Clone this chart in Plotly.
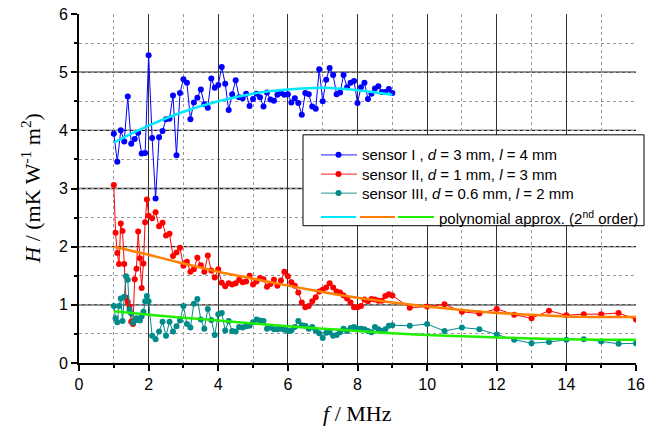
import plotly.graph_objects as go

# ---------------- data ----------------
f_s1 = [1.0, 1.1, 1.2, 1.3, 1.4, 1.5, 1.6, 1.7, 1.8, 1.9,
        2.0, 2.1, 2.2, 2.3, 2.4, 2.5, 2.6, 2.7, 2.8, 2.9,
        3.0, 3.1, 3.2, 3.3, 3.4, 3.5, 3.6, 3.7, 3.8, 3.9,
        4.0, 4.1, 4.2, 4.3, 4.4, 4.5, 4.6, 4.7, 4.8, 4.9,
        5.0, 5.1, 5.2, 5.3, 5.4, 5.5, 5.6, 5.7, 5.8, 5.9,
        6.0, 6.1, 6.2, 6.3, 6.4, 6.5, 6.6, 6.7, 6.8, 6.9,
        7.0, 7.1, 7.2, 7.3, 7.4, 7.5, 7.6, 7.7, 7.8, 7.9,
        8.0, 8.1, 8.2, 8.3, 8.4, 8.5, 8.6, 8.7, 8.8, 8.9, 9.0]
H_s1 = [3.94, 3.46, 4.00, 3.81, 4.58, 3.77, 3.85, 3.96, 3.60, 3.61,
        5.29, 3.87, 2.83, 3.88, 3.99, 4.19, 4.20, 4.60, 3.57, 4.64,
        4.88, 4.82, 4.19, 4.48, 4.56, 4.70, 4.45, 4.39, 4.89, 4.73,
        4.78, 5.09, 4.80, 4.35, 4.62, 4.86, 4.57, 4.55, 4.63, 4.42,
        4.54, 4.63, 4.57, 4.41, 4.65, 4.53, 4.51, 4.61, 4.64, 4.61,
        4.62, 4.48, 4.55, 4.47, 4.27, 4.64, 4.62, 4.41, 4.37, 5.05,
        4.50, 4.87, 5.07, 4.95, 4.62, 4.65, 4.95, 4.74, 4.82, 4.85,
        4.47, 4.74, 4.82, 4.54, 4.63, 4.72, 4.76, 4.66, 4.66, 4.71, 4.64]

f_s23 = [1.00, 1.05, 1.10, 1.15, 1.20, 1.25, 1.30, 1.35, 1.40, 1.45,
         1.50, 1.55, 1.60, 1.65, 1.70, 1.75, 1.80, 1.85, 1.90, 1.95, 2.00,
         2.1, 2.2, 2.3, 2.4, 2.5, 2.6, 2.7, 2.8, 2.9, 3.0,
         3.1, 3.2, 3.3, 3.4, 3.5, 3.6, 3.7, 3.8, 3.9, 4.0,
         4.1, 4.2, 4.3, 4.4, 4.5, 4.6, 4.7, 4.8, 4.9, 5.0,
         5.1, 5.2, 5.3, 5.4, 5.5, 5.6, 5.7, 5.8, 5.9, 6.0,
         6.1, 6.2, 6.3, 6.4, 6.5, 6.6, 6.7, 6.8, 6.9, 7.0,
         7.1, 7.2, 7.3, 7.4, 7.5, 7.6, 7.7, 7.8, 7.9, 8.0,
         8.1, 8.2, 8.3, 8.4, 8.5, 8.6, 8.7, 8.8, 8.9, 9.0,
         9.5, 10.0, 10.5, 11.0, 11.5, 12.0, 12.5, 13.0, 13.5, 14.0,
         14.5, 15.0, 15.5, 16.0]
H_s2 = [3.06, 2.24, 1.89, 1.70, 2.40, 2.27, 1.70, 1.12, 1.05, 0.97,
        0.71, 0.67, 1.44, 1.62, 2.26, 1.80, 1.29, 1.71, 2.42, 2.81, 2.53,
        2.49, 2.59, 2.35, 2.41, 2.19, 2.22, 1.84, 1.90, 1.98, 1.67,
        1.74, 1.57, 1.61, 1.81, 1.68, 1.57, 1.85, 1.59, 1.47, 1.61,
        1.38, 1.32, 1.37, 1.35, 1.37, 1.43, 1.39, 1.40, 1.50, 1.35,
        1.40, 1.46, 1.44, 1.31, 1.36, 1.43, 1.33, 1.42, 1.57, 1.49,
        1.39, 1.33, 1.21, 1.04, 0.96, 0.98, 1.06, 1.13, 1.23, 1.26,
        1.30, 1.37, 1.30, 1.23, 1.21, 1.16, 1.11, 1.04, 0.96, 0.96,
        0.98, 1.09, 1.06, 1.10, 1.09, 1.07, 1.07, 1.15, 1.18, 1.16,
        0.95, 0.97, 1.01, 0.88, 0.85, 0.93, 0.83, 0.77, 0.90, 0.82,
        0.84, 0.84, 0.86, 0.75]
H_s3 = [0.98, 0.77, 0.70, 0.98, 1.11, 0.72, 1.14, 1.49, 1.43, 0.92,
        0.85, 0.69, 0.73, 0.77, 0.74, 0.73, 0.80, 0.88, 1.06, 1.15, 1.06,
        0.47, 0.41, 0.54, 0.71, 0.47, 0.71, 0.54, 0.63, 0.73, 0.98,
        0.67, 0.61, 1.02, 1.10, 0.75, 0.59, 0.93, 0.74, 0.48, 0.84,
        0.86, 0.56, 0.72, 0.55, 0.54, 0.62, 0.61, 0.63, 0.64, 0.70,
        0.75, 0.73, 0.72, 0.59, 0.61, 0.58, 0.58, 0.59, 0.57, 0.55,
        0.56, 0.62, 0.72, 0.65, 0.64, 0.59, 0.62, 0.56, 0.51, 0.43,
        0.52, 0.53, 0.47, 0.48, 0.53, 0.59, 0.55, 0.60, 0.62, 0.59,
        0.59, 0.58, 0.55, 0.53, 0.62, 0.58, 0.55, 0.58, 0.64, 0.65,
        0.64, 0.67, 0.55, 0.61, 0.58, 0.49, 0.40, 0.34, 0.36, 0.40,
        0.41, 0.37, 0.33, 0.34]

# polynomial (2nd order) approximations
f_fit1 = [1, 2, 3, 4, 5, 6, 7, 8, 9]
H_fit1 = [3.79, 4.08, 4.32, 4.50, 4.63, 4.70, 4.73, 4.69, 4.61]
f_fit23 = [1, 2, 3, 4, 5, 6, 7, 8, 9, 10, 11, 12, 13, 14, 15, 16]
H_fit2 = [2.00, 1.86, 1.71, 1.57, 1.45, 1.33, 1.22, 1.12, 1.04, 0.97,
          0.91, 0.86, 0.83, 0.80, 0.79, 0.79]
H_fit3 = [0.89, 0.83, 0.78, 0.73, 0.68, 0.63, 0.59, 0.55, 0.51, 0.48,
          0.46, 0.44, 0.42, 0.41, 0.40, 0.40]

x_ticks = [0, 2, 4, 6, 8, 10, 12, 14, 16]
y_major = [0, 1, 2, 3, 4, 5, 6]

names = ["sensor I , <i>d</i> = 3 mm, <i>l</i> = 4 mm",
         "sensor II, <i>d</i> = 1 mm, <i>l</i> = 3 mm",
         "sensor III, <i>d</i> = 0.6 mm, <i>l</i> = 2 mm"]
fit_label = "polynomial approx. (2<sup>nd</sup> order)"

# ---------------- styling ----------------
C_BLUE, C_RED, C_TEAL = "#0000ff", "#ff0000", "#008b8b"
C_CYAN, C_ORANGE, C_GREEN = "#00e8ff", "#ff8000", "#22ee00"
SANS = "Liberation Sans, Arial, sans-serif"
SERIF = "Liberation Serif, Times New Roman, serif"

W, H = 650, 437
L, R, T, B = 79, 14, 14, 73.5
PW, PH = W - L - R, H - T - B


def px2paper(px, py):
    return (px - L) / PW, (H - B - py) / PH


fig = go.Figure()

for fx, hy, col in [(f_s1, H_s1, C_BLUE), (f_s23, H_s2, C_RED), (f_s23, H_s3, C_TEAL)]:
    fig.add_trace(go.Scatter(x=fx, y=hy, mode="lines+markers",
                             line=dict(color=col, width=1),
                             marker=dict(color=col, size=6),
                             showlegend=False))

for fx, hy, col in [(f_fit1, H_fit1, C_CYAN), (f_fit23, H_fit2, C_ORANGE), (f_fit23, H_fit3, C_GREEN)]:
    fig.add_trace(go.Scatter(x=fx, y=hy, mode="lines",
                             line=dict(color=col, width=2.5, shape="spline"),
                             showlegend=False))

shapes = []
# major horizontal gridlines (no line on top edge)
for v in y_major[1:-1]:
    shapes.append(dict(type="line", xref="paper", yref="y", x0=0, x1=1, y0=v, y1=v,
                       line=dict(color="#222", width=1.3), layer="below"))

# legend box
bx0, by0 = px2paper(303, 226)
bx1, by1 = px2paper(644, 135)
shapes.append(dict(type="rect", xref="paper", yref="paper", x0=bx0, x1=bx1, y0=by0, y1=by1,
                   fillcolor="white", line=dict(color="black", width=1), layer="above"))

annotations = []
rows_y = [155, 174.3, 193.3]
for name, col, ry in zip(names, [C_BLUE, C_RED, C_TEAL], rows_y):
    xa, ya = px2paper(321, ry)
    xb, _ = px2paper(357, ry)
    xm, _ = px2paper(338.5, ry)
    shapes.append(dict(type="line", xref="paper", yref="paper", x0=xa, x1=xb, y0=ya, y1=ya,
                       line=dict(color=col, width=1.2), layer="above", opacity=0.7))
    shapes.append(dict(type="circle", xref="paper", yref="paper", xsizemode="pixel",
                       ysizemode="pixel", xanchor=xm, yanchor=ya, x0=-3, x1=3, y0=-3, y1=3,
                       fillcolor=col, line=dict(color=col, width=0), layer="above"))
    xt, _ = px2paper(360, ry)
    annotations.append(dict(text=name, xref="paper", yref="paper", x=xt, y=ya,
                            xanchor="left", yanchor="middle", showarrow=False,
                            font=dict(family=SANS, size=15, color="black")))

ry = 217.3
for (a, b), col in zip([(321, 356), (360, 395), (398, 434)], [C_CYAN, C_ORANGE, C_GREEN]):
    xa, ya = px2paper(a, ry)
    xb, _ = px2paper(b, ry)
    shapes.append(dict(type="line", xref="paper", yref="paper", x0=xa, x1=xb, y0=ya, y1=ya,
                       line=dict(color=col, width=2.2), layer="above"))
xt, yt = px2paper(437, ry)
annotations.append(dict(text=fit_label, xref="paper", yref="paper", x=xt, y=yt,
                        xanchor="left", yanchor="middle", showarrow=False,
                        font=dict(family=SANS, size=15, color="black")))

# axis titles
xt, yt = px2paper(31, 189)
annotations.append(dict(text="<i>H</i> / (mK W<sup>-1</sup> m<sup>2</sup>)", xref="paper",
                        yref="paper", x=xt, y=yt, textangle=-90, showarrow=False,
                        xanchor="center", yanchor="middle",
                        font=dict(family=SERIF, size=22, color="black")))
xt, yt = px2paper(357, 414)
annotations.append(dict(text="<i>f</i> / MHz", xref="paper", yref="paper", x=xt, y=yt,
                        showarrow=False, xanchor="center", yanchor="middle",
                        font=dict(family=SERIF, size=22, color="black")))

fig.update_layout(
    width=W, height=H,
    margin=dict(l=L, r=R, t=T, b=B, pad=0, autoexpand=False),
    paper_bgcolor="white", plot_bgcolor="white",
    shapes=shapes, annotations=annotations, showlegend=False,
)

fig.update_xaxes(range=[0, 16], tickmode="array", tickvals=x_ticks, automargin=False,
                 showline=True, linecolor="black", linewidth=2,
                 showgrid=True, gridcolor="#333", gridwidth=1.3, zeroline=False,
                 ticks="outside", ticklen=6, tickwidth=1.5, tickcolor="black",
                 tickfont=dict(family=SANS, size=16, color="black"),
                 minor=dict(dtick=1, tick0=0, showgrid=True, gridcolor="#999", griddash="dot",
                            gridwidth=1, ticks="outside", ticklen=3, tickcolor="black"))
fig.update_yaxes(range=[0, 6], tickmode="array", tickvals=y_major, automargin=False,
                 showline=True, linecolor="black", linewidth=2,
                 showgrid=False, zeroline=False,
                 ticks="outside", ticklen=6, tickwidth=1.5, tickcolor="black",
                 tickfont=dict(family=SANS, size=16, color="black"),
                 minor=dict(dtick=0.5, tick0=0, showgrid=True, gridcolor="#999", griddash="dot",
                            gridwidth=1, ticks="outside", ticklen=3, tickcolor="black"))

fig.write_html("out.html", config={"displayModeBar": False},
               post_script="document.body.style.margin='0';document.body.style.overflow='hidden';")
